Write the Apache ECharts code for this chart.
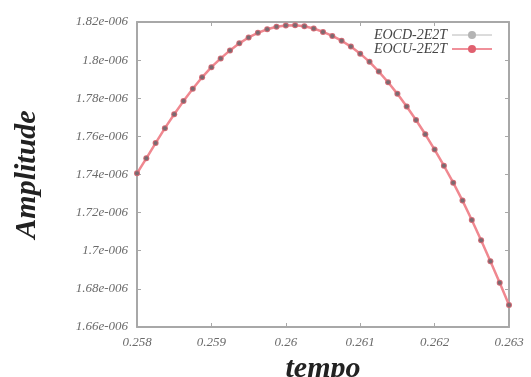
<!DOCTYPE html>
<html>
<head>
<meta charset="utf-8">
<script src="https://cdn.jsdelivr.net/npm/echarts@6/dist/echarts.min.js"></script>
<style>
  html, body { margin: 0; padding: 0; background: #ffffff; }
  #chart { width: 531px; height: 377px; }
</style>
</head>
<body>
<div id="chart"></div>
<script>
// Sample times (s)
const tempo = [
  0.258, 0.258125, 0.25825, 0.258375, 0.2585, 0.258625, 0.25875, 0.258875,
  0.259, 0.259125, 0.25925, 0.259375, 0.2595, 0.259625, 0.25975, 0.259875,
  0.26, 0.260125, 0.26025, 0.260375, 0.2605, 0.260625, 0.26075, 0.260875,
  0.261, 0.261125, 0.26125, 0.261375, 0.2615, 0.261625, 0.26175, 0.261875,
  0.262, 0.262125, 0.26225, 0.262375, 0.2625, 0.262625, 0.26275, 0.262875,
  0.263
];

// Amplitude, EOCD-2E2T
const eocd = [
  1.7406e-6, 1.7485e-6, 1.7565e-6, 1.7643e-6, 1.7716e-6, 1.7785e-6, 1.7850e-6, 1.7910e-6,
  1.7963e-6, 1.8009e-6, 1.8051e-6, 1.8088e-6, 1.8119e-6, 1.8143e-6, 1.8162e-6, 1.8175e-6,
  1.8182e-6, 1.8183e-6, 1.8178e-6, 1.8166e-6, 1.8148e-6, 1.8127e-6, 1.8102e-6, 1.8071e-6,
  1.8034e-6, 1.7991e-6, 1.7940e-6, 1.7884e-6, 1.7823e-6, 1.7757e-6, 1.7686e-6, 1.7611e-6,
  1.7531e-6, 1.7446e-6, 1.7357e-6, 1.7263e-6, 1.7161e-6, 1.7055e-6, 1.6945e-6, 1.6832e-6,
  1.6715e-6
];

// Amplitude, EOCU-2E2T
const eocu = [
  1.7406e-6, 1.7485e-6, 1.7565e-6, 1.7643e-6, 1.7716e-6, 1.7785e-6, 1.7850e-6, 1.7910e-6,
  1.7963e-6, 1.8009e-6, 1.8051e-6, 1.8088e-6, 1.8119e-6, 1.8143e-6, 1.8162e-6, 1.8175e-6,
  1.8182e-6, 1.8183e-6, 1.8178e-6, 1.8166e-6, 1.8148e-6, 1.8127e-6, 1.8102e-6, 1.8071e-6,
  1.8034e-6, 1.7991e-6, 1.7940e-6, 1.7884e-6, 1.7823e-6, 1.7757e-6, 1.7686e-6, 1.7611e-6,
  1.7531e-6, 1.7446e-6, 1.7357e-6, 1.7263e-6, 1.7161e-6, 1.7055e-6, 1.6945e-6, 1.6832e-6,
  1.6715e-6
];

const xTickLabels = ['0.258', '0.259', '0.26', '0.261', '0.262', '0.263'];
const yTickLabels = ['1.66e-006', '1.68e-006', '1.7e-006', '1.72e-006', '1.74e-006',
                     '1.76e-006', '1.78e-006', '1.8e-006', '1.82e-006'];

const X_MIN = 0.258, X_MAX = 0.263, X_STEP = 0.001;
const Y_MIN = 1.66e-6, Y_MAX = 1.82e-6, Y_STEP = 0.02e-6;

const serif = '"Liberation Serif", "DejaVu Serif", serif';
const frameColor = '#a8a8a8';
const tickLabelStyle = {
  fontFamily: serif, fontStyle: 'italic', fontSize: 13, color: '#6a6a6a'
};

function pair(xs, ys) { return xs.map((x, i) => [x, ys[i]]); }

const frameAxis = {
  axisLine: { show: true, lineStyle: { color: frameColor, width: 2 } },
  axisTick: { show: true, inside: true, length: 4, lineStyle: { color: frameColor, width: 1 } },
  splitLine: { show: false }
};

const chart = echarts.init(document.getElementById('chart'), null, { renderer: 'canvas' });
chart.setOption({
  backgroundColor: '#ffffff',
  animation: false,
  grid: { left: 137, right: 22, top: 22, bottom: 50, containLabel: false, outerBoundsMode: 'none' },
  legend: {
    top: 23, right: 33,
    orient: 'vertical',
    align: 'right',
    itemGap: 0,
    itemWidth: 40, itemHeight: 10,
    textStyle: { fontFamily: serif, fontStyle: 'italic', fontSize: 14, color: '#444' },
    data: [
      { name: 'EOCD-2E2T', itemStyle: { color: '#b4b4b4' }, lineStyle: { color: '#b8b8b8', width: 1, opacity: 1 } },
      { name: 'EOCU-2E2T', itemStyle: { color: '#e0606f' }, lineStyle: { color: '#f0909a', width: 2, opacity: 1 } }
    ]
  },
  xAxis: [
    Object.assign({
      type: 'value', position: 'bottom', min: X_MIN, max: X_MAX, interval: X_STEP,
      name: 'tempo', nameLocation: 'middle', nameGap: 22,
      nameTextStyle: { fontFamily: serif, fontStyle: 'italic', fontWeight: 'bold', fontSize: 30, color: '#222' },
      axisLabel: Object.assign({
        margin: 9,
        formatter: v => xTickLabels[Math.round((v - X_MIN) / X_STEP)]
      }, tickLabelStyle)
    }, frameAxis),
    Object.assign({
      type: 'value', position: 'top', min: X_MIN, max: X_MAX, interval: X_STEP,
      axisLabel: { show: false }
    }, frameAxis)
  ],
  yAxis: [
    Object.assign({
      type: 'value', position: 'left', min: Y_MIN, max: Y_MAX, interval: Y_STEP,
      name: 'Amplitude', nameLocation: 'middle', nameGap: 95, nameRotate: 90,
      nameTextStyle: { fontFamily: serif, fontStyle: 'italic', fontWeight: 'bold', fontSize: 30, color: '#222' },
      axisLabel: Object.assign({
        margin: 9,
        formatter: v => yTickLabels[Math.round((v - Y_MIN) / Y_STEP)]
      }, tickLabelStyle)
    }, frameAxis),
    Object.assign({
      type: 'value', position: 'right', min: Y_MIN, max: Y_MAX, interval: Y_STEP,
      axisLabel: { show: false }
    }, frameAxis)
  ],
  series: [
    {
      name: 'EOCU-2E2T', type: 'line', xAxisIndex: 0, yAxisIndex: 0,
      data: pair(tempo, eocu),
      symbol: 'circle', symbolSize: 6,
      itemStyle: { color: '#d06a74' },
      lineStyle: { color: '#f08890', width: 2.5 },
      z: 2
    },
    {
      name: 'EOCD-2E2T', type: 'line', xAxisIndex: 0, yAxisIndex: 0,
      data: pair(tempo, eocd),
      symbol: 'circle', symbolSize: 4,
      itemStyle: { color: '#7a6a70' },
      lineStyle: { color: '#b8b8b8', width: 1, opacity: 0 },
      z: 3
    }
  ]
});
</script>
</body>
</html>
